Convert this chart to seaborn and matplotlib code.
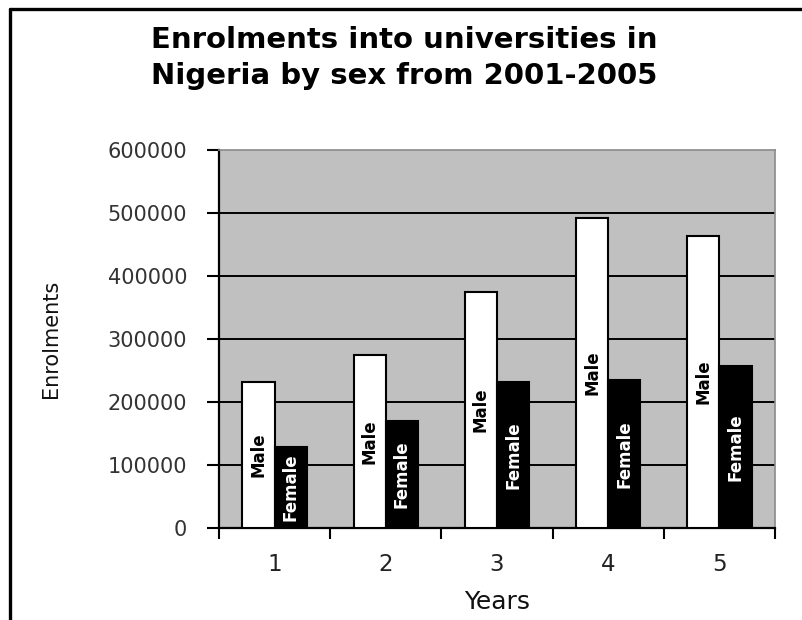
import matplotlib
matplotlib.use("Agg")
import matplotlib.pyplot as plt
from matplotlib.lines import Line2D
from matplotlib.ticker import FixedLocator
import pandas as pd
import seaborn as sns

# Enrolment figures by year and sex
years = ["1", "2", "3", "4", "5"]
male = [232000, 274000, 375000, 492000, 464000]
female = [128000, 170000, 232000, 235000, 257000]
sexes = ["Male", "Female"]
y_ticks = [0, 100000, 200000, 300000, 400000, 500000, 600000]

df = pd.DataFrame({
    "Years": years * 2,
    "Enrolments": male + female,
    "Sex": ["Male"] * len(years) + ["Female"] * len(years),
})

sns.set_theme(style="white", rc={"axes.facecolor": "#c0c0c0"})
plt.rcParams["font.family"] = ["DejaVu Sans"]

fig = plt.figure(figsize=(8.03, 6.20), dpi=100)
ax = fig.add_axes([219 / 803, 1 - 528 / 620, 556 / 803, 378 / 620])

sns.barplot(
    data=df, x="Years", y="Enrolments", hue="Sex",
    order=years, hue_order=sexes,
    palette={"Male": "white", "Female": "black"},
    width=0.58, edgecolor="black", linewidth=1.5,
    legend=False, ax=ax, zorder=3,
)

# horizontal gridlines
ax.set_ylim(0, 600000)
ax.set_yticks(y_ticks)
ax.set_yticklabels([str(v) for v in y_ticks])
for v in y_ticks[1:-1]:
    ax.axhline(v, color="black", lw=1.4, zorder=1)

ax.set_xlim(-0.5, len(years) - 0.5)
ax.xaxis.set_minor_locator(FixedLocator([i - 0.5 for i in range(len(years) + 1)]))
ax.tick_params(axis="x", which="major", length=0, pad=18, labelsize=16.5,
               labelcolor="#222222")
ax.tick_params(axis="x", which="minor", length=8, width=1.5, color="black",
               direction="out", bottom=True)
ax.tick_params(axis="y", which="major", length=9, width=1.5, color="black",
               direction="out", left=True, pad=14, labelsize=15,
               labelcolor="#333333")

for side in ("left", "bottom"):
    ax.spines[side].set_color("black")
    ax.spines[side].set_linewidth(1.6)
for side in ("top", "right"):
    ax.spines[side].set_color("#8a8a8a")
    ax.spines[side].set_linewidth(1.2)

# in-bar labels
label_font = dict(family="DejaVu Sans", fontweight="bold", fontsize=12)
ax.bar_label(ax.containers[0], labels=["Male"] * len(years), label_type="center",
             rotation=90, color="black", **label_font)
ax.bar_label(ax.containers[1], labels=["Female"] * len(years), label_type="center",
             rotation=90, color="white", **label_font)

ax.set_xlabel("Years", fontsize=18, color="#111111")
ax.xaxis.set_label_coords(0.5, -0.165)
ax.set_ylabel("Enrolments", fontsize=15, color="#111111")
ax.yaxis.set_label_coords(-0.285, 0.5)

fig.text(0.503, 1 - 58 / 620,
         "Enrolments into universities in\nNigeria by sex from 2001-2005",
         ha="center", va="center", fontsize=21, fontweight="bold",
         linespacing=1.35, color="black")

# frame on the left and top edges of the figure
fig.add_artist(Line2D([10 / 803, 10 / 803], [0, 1 - 9 / 620], color="black",
                      lw=2.4, transform=fig.transFigure))
fig.add_artist(Line2D([10 / 803, 1], [1 - 9 / 620, 1 - 9 / 620], color="black",
                      lw=2.4, transform=fig.transFigure))

fig.savefig("out.png", dpi=100)
